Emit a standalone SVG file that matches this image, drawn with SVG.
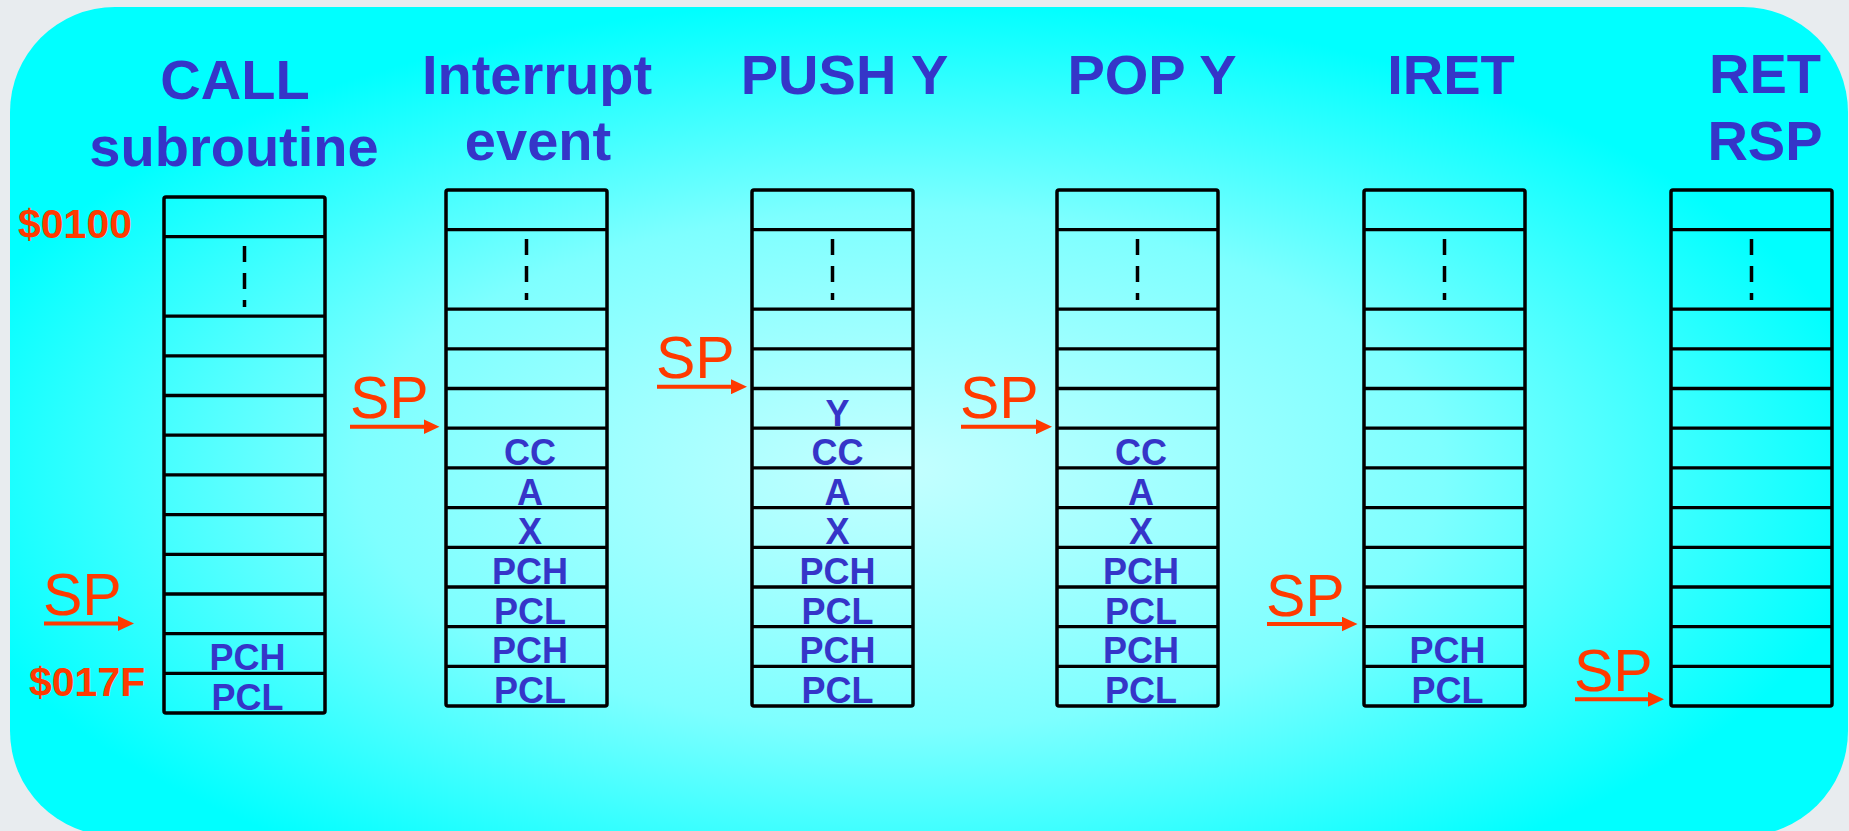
<svg xmlns="http://www.w3.org/2000/svg" xmlns:xlink="http://www.w3.org/1999/xlink" width="1849" height="831" viewBox="0 0 1849 831">
  <style>
    .title { font-family: "Liberation Sans", Arial, sans-serif; font-weight: bold; font-size: 56px; fill: #3535c8; text-anchor: middle; }
    .cell  { font-family: "Liberation Sans", Arial, sans-serif; font-weight: bold; font-size: 36px; fill: #3535c8; text-anchor: middle; }
    .addr  { font-family: "Liberation Sans", Arial, sans-serif; font-weight: bold; font-size: 41px; fill: #ff3a00; }
    .sp    { font-family: "Liberation Sans", Arial, sans-serif; font-size: 59px; fill: #ff3a00; }
    .frame { fill: none; stroke: #000; stroke-width: 3.5; }
    .row   { stroke: #000; stroke-width: 3.3; }
    .dots  { stroke: #000; stroke-width: 3.5; stroke-dasharray: 16 11; }
    .ptr   { stroke: #ff3a00; stroke-width: 4; fill: none; }
  </style>
  <defs>
    <radialGradient id="bg" gradientUnits="userSpaceOnUse" cx="900" cy="470" r="470" gradientTransform="translate(900 470) scale(2.1 1) translate(-900 -470)">
      <stop offset="0" stop-color="#c4ffff"/>
      <stop offset="0.55" stop-color="#7effff"/>
      <stop offset="1" stop-color="#00ffff"/>
    </radialGradient>
    <marker id="head" markerUnits="userSpaceOnUse" markerWidth="16" markerHeight="15" refX="4" refY="7.5" orient="auto">
      <path d="M0,0 L16,7.5 L0,15 z" fill="#ff3a00"/>
    </marker>
    <!-- one stack column: top cell, tall "..." cell, then ten cells -->
    <g id="stack">
      <line class="row" x1="0" y1="39.7" x2="161" y2="39.7"/>
      <line class="row" x1="0" y1="119.1" x2="161" y2="119.1"/>
      <line class="row" x1="0" y1="158.8" x2="161" y2="158.8"/>
      <line class="row" x1="0" y1="198.5" x2="161" y2="198.5"/>
      <line class="row" x1="0" y1="238.2" x2="161" y2="238.2"/>
      <line class="row" x1="0" y1="277.9" x2="161" y2="277.9"/>
      <line class="row" x1="0" y1="317.6" x2="161" y2="317.6"/>
      <line class="row" x1="0" y1="357.3" x2="161" y2="357.3"/>
      <line class="row" x1="0" y1="397" x2="161" y2="397"/>
      <line class="row" x1="0" y1="436.7" x2="161" y2="436.7"/>
      <line class="row" x1="0" y1="476.4" x2="161" y2="476.4"/>
      <line class="dots" x1="80.5" y1="49" x2="80.5" y2="110"/>
      <rect class="frame" x="0" y="0" width="161" height="516.1" rx="2"/>
    </g>
  </defs>

  <rect width="1849" height="831" fill="#e8ecef"/>
  <rect x="10" y="7" width="1838" height="829" rx="105" fill="url(#bg)"/>

  <g id="call-subroutine">
    <text class="title" x="235" y="99">CALL</text>
    <text class="title" x="234" y="166">subroutine</text>
    <use xlink:href="#stack" x="164" y="197"/>
    <text class="addr" x="18" y="238">$0100</text>
    <text class="addr" x="29" y="696">$017F</text>
    <text class="cell" x="247.5" y="670.4">PCH</text>
    <text class="cell" x="247.5" y="710">PCL</text>
    <text class="sp" x="43" y="615">SP</text>
  </g>

  <g id="interrupt-event">
    <text class="title" x="537" y="94">Interrupt</text>
    <text class="title" x="538" y="160">event</text>
    <use xlink:href="#stack" x="446" y="190"/>
    <text class="cell" x="530" y="464.9">CC</text>
    <text class="cell" x="530" y="504.6">A</text>
    <text class="cell" x="530" y="544.3">X</text>
    <text class="cell" x="530" y="584">PCH</text>
    <text class="cell" x="530" y="623.7">PCL</text>
    <text class="cell" x="530" y="663.4">PCH</text>
    <text class="cell" x="530" y="703">PCL</text>
    <text class="sp" x="350" y="418">SP</text>
  </g>

  <g id="push-y">
    <text class="title" x="844.5" y="93.5">PUSH Y</text>
    <use xlink:href="#stack" x="752" y="190"/>
    <text class="cell" x="837.5" y="425.5">Y</text>
    <text class="cell" x="837.5" y="464.9">CC</text>
    <text class="cell" x="837.5" y="504.6">A</text>
    <text class="cell" x="837.5" y="544.3">X</text>
    <text class="cell" x="837.5" y="584">PCH</text>
    <text class="cell" x="837.5" y="623.7">PCL</text>
    <text class="cell" x="837.5" y="663.4">PCH</text>
    <text class="cell" x="837.5" y="703">PCL</text>
    <text class="sp" x="656" y="378">SP</text>
  </g>

  <g id="pop-y">
    <text class="title" x="1152" y="93.5">POP Y</text>
    <use xlink:href="#stack" x="1057" y="190"/>
    <text class="cell" x="1141" y="464.9">CC</text>
    <text class="cell" x="1141" y="504.6">A</text>
    <text class="cell" x="1141" y="544.3">X</text>
    <text class="cell" x="1141" y="584">PCH</text>
    <text class="cell" x="1141" y="623.7">PCL</text>
    <text class="cell" x="1141" y="663.4">PCH</text>
    <text class="cell" x="1141" y="703">PCL</text>
    <text class="sp" x="960" y="418">SP</text>
  </g>

  <g id="iret">
    <text class="title" x="1451" y="94">IRET</text>
    <use xlink:href="#stack" x="1364" y="190"/>
    <text class="cell" x="1447.5" y="663.4">PCH</text>
    <text class="cell" x="1447.5" y="703">PCL</text>
    <text class="sp" x="1266" y="615.5">SP</text>
  </g>

  <g id="ret-rsp">
    <text class="title" x="1765" y="93">RET</text>
    <text class="title" x="1765" y="159.5">RSP</text>
    <use xlink:href="#stack" x="1671" y="190"/>
    <text class="sp" x="1574" y="691">SP</text>
  </g>

  <!-- stack pointer arrows -->
  <g id="connectors">
    <line class="ptr" x1="44" y1="623.5" x2="122" y2="623.5" marker-end="url(#head)"/>
    <line class="ptr" x1="350" y1="426.7" x2="427.5" y2="426.7" marker-end="url(#head)"/>
    <line class="ptr" x1="657" y1="386.7" x2="735" y2="386.7" marker-end="url(#head)"/>
    <line class="ptr" x1="961" y1="426.7" x2="1040" y2="426.7" marker-end="url(#head)"/>
    <line class="ptr" x1="1267" y1="624" x2="1345.5" y2="624" marker-end="url(#head)"/>
    <line class="ptr" x1="1575" y1="699.3" x2="1652" y2="699.3" marker-end="url(#head)"/>
  </g>
</svg>
